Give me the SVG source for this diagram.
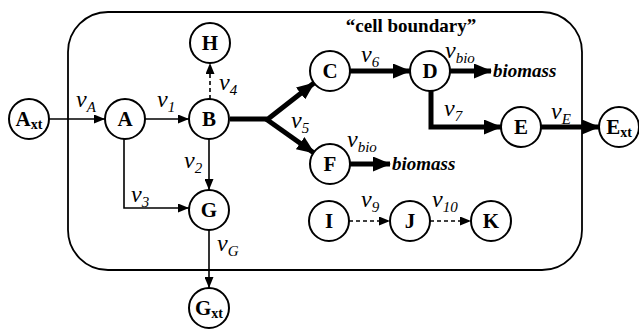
<svg xmlns="http://www.w3.org/2000/svg" width="639" height="329" viewBox="0 0 639 329">
<defs>
<style>
.n{fill:#fff;stroke:#000;stroke-width:2}
.nt{font-family:"Liberation Serif","Times New Roman",serif;font-weight:bold;font-size:21px;text-anchor:middle;fill:#000}
.sub{font-size:14px}
.v{font-family:"Liberation Serif","Times New Roman",serif;font-style:italic;font-size:24px;fill:#000}
.vs{font-size:15px}
.thin{fill:none;stroke:#000;stroke-width:1.6}
.dash{fill:none;stroke:#000;stroke-width:1.6;stroke-dasharray:4 3}
.thick{fill:none;stroke:#000;stroke-width:5}
.bio{font-family:"Liberation Serif","Times New Roman",serif;font-style:italic;font-weight:bold;font-size:19px;fill:#000}
.title{font-family:"Liberation Serif","Times New Roman",serif;font-weight:bold;font-size:19px;fill:#000;text-anchor:middle}
</style>
<marker id="ah" markerUnits="userSpaceOnUse" markerWidth="11" markerHeight="9" refX="11" refY="4.5" orient="auto">
<path d="M0,0 L11,4.5 L0,9 z" fill="#000"/>
</marker>
<marker id="ahT" markerUnits="userSpaceOnUse" markerWidth="18" markerHeight="15" refX="17" refY="7.5" orient="auto">
<path d="M0,0 L18,7.5 L0,15 z" fill="#000"/>
</marker>
</defs>
<rect x="68" y="12" width="514" height="258" rx="40" ry="40" fill="none" stroke="#000" stroke-width="1.8"/>
<text class="title" x="411" y="32">“cell boundary”</text>
<g id="connectors">
<line class="thin" x1="49" y1="119" x2="105" y2="119" marker-end="url(#ah)"/>
<line class="thin" x1="145" y1="119" x2="189" y2="119" marker-end="url(#ah)"/>
<line class="dash" x1="210" y1="99" x2="210" y2="63" marker-end="url(#ah)"/>
<line class="thin" x1="209" y1="139" x2="209" y2="190" marker-end="url(#ah)"/>
<polyline class="thin" points="124,139 124,208 189,208" marker-end="url(#ah)"/>
<line class="thin" x1="209" y1="230" x2="209" y2="288" marker-end="url(#ah)"/>
<polyline class="thick" points="230,119 268,119 314,83" marker-end="url(#ahT)"/>
<polyline class="thick" points="266,119 314,153" marker-end="url(#ahT)"/>
<line class="thick" x1="350" y1="71" x2="410" y2="71" marker-end="url(#ahT)"/>
<line class="thick" x1="450" y1="71" x2="491" y2="71" marker-end="url(#ahT)"/>
<line class="thick" x1="350" y1="164" x2="390" y2="164" marker-end="url(#ahT)"/>
<polyline class="thick" points="431,90 431,127 501,127" marker-end="url(#ahT)"/>
<line class="thick" x1="541" y1="127" x2="599" y2="127" marker-end="url(#ahT)"/>
<line class="dash" x1="349" y1="221" x2="390" y2="221" marker-end="url(#ah)"/>
<line class="dash" x1="430" y1="221" x2="471" y2="221" marker-end="url(#ah)"/>
</g>
<g id="labels">
<text class="v" x="76" y="107">v<tspan class="vs" dy="5">A</tspan></text>
<text class="v" x="157" y="107">v<tspan class="vs" dy="5">1</tspan></text>
<text class="v" x="219" y="90">v<tspan class="vs" dy="5">4</tspan></text>
<text class="v" x="184" y="168">v<tspan class="vs" dy="5">2</tspan></text>
<text class="v" x="131" y="202">v<tspan class="vs" dy="5">3</tspan></text>
<text class="v" x="217" y="251">v<tspan class="vs" dy="5">G</tspan></text>
<text class="v" x="291" y="128">v<tspan class="vs" dy="5">5</tspan></text>
<text class="v" x="361" y="62">v<tspan class="vs" dy="5">6</tspan></text>
<text class="v" x="445" y="58">v<tspan class="vs" dy="5">bio</tspan></text>
<text class="v" x="347" y="147">v<tspan class="vs" dy="5">bio</tspan></text>
<text class="v" x="444" y="116">v<tspan class="vs" dy="5">7</tspan></text>
<text class="v" x="551" y="119">v<tspan class="vs" dy="5">E</tspan></text>
<text class="v" x="361" y="207">v<tspan class="vs" dy="5">9</tspan></text>
<text class="v" x="432" y="207">v<tspan class="vs" dy="5">10</tspan></text>
<text class="bio" x="493" y="77">biomass</text>
<text class="bio" x="392" y="170">biomass</text>
</g>
<g id="Axt"><circle class="n" cx="29" cy="119" r="20"/><text class="nt" x="29" y="126">A<tspan class="sub" dy="3">xt</tspan></text></g>
<g id="A"><circle class="n" cx="125" cy="119" r="20"/><text class="nt" x="125" y="126">A</text></g>
<g id="B"><circle class="n" cx="209" cy="119" r="20"/><text class="nt" x="209" y="126">B</text></g>
<g id="H"><circle class="n" cx="210" cy="43" r="20"/><text class="nt" x="210" y="50">H</text></g>
<g id="G"><circle class="n" cx="209" cy="210" r="20"/><text class="nt" x="209" y="217">G</text></g>
<g id="Gxt"><circle class="n" cx="209" cy="308" r="20"/><text class="nt" x="209" y="315">G<tspan class="sub" dy="3">xt</tspan></text></g>
<g id="C"><circle class="n" cx="330" cy="71" r="20"/><text class="nt" x="330" y="78">C</text></g>
<g id="D"><circle class="n" cx="430" cy="71" r="20"/><text class="nt" x="430" y="78">D</text></g>
<g id="E"><circle class="n" cx="521" cy="127" r="20"/><text class="nt" x="521" y="134">E</text></g>
<g id="Ext"><circle class="n" cx="619" cy="127" r="20"/><text class="nt" x="619" y="134">E<tspan class="sub" dy="3">xt</tspan></text></g>
<g id="F"><circle class="n" cx="330" cy="164" r="20"/><text class="nt" x="330" y="171">F</text></g>
<g id="I"><circle class="n" cx="329" cy="221" r="20"/><text class="nt" x="329" y="228">I</text></g>
<g id="J"><circle class="n" cx="410" cy="221" r="20"/><text class="nt" x="410" y="228">J</text></g>
<g id="K"><circle class="n" cx="491" cy="221" r="20"/><text class="nt" x="491" y="228">K</text></g>
</svg>
